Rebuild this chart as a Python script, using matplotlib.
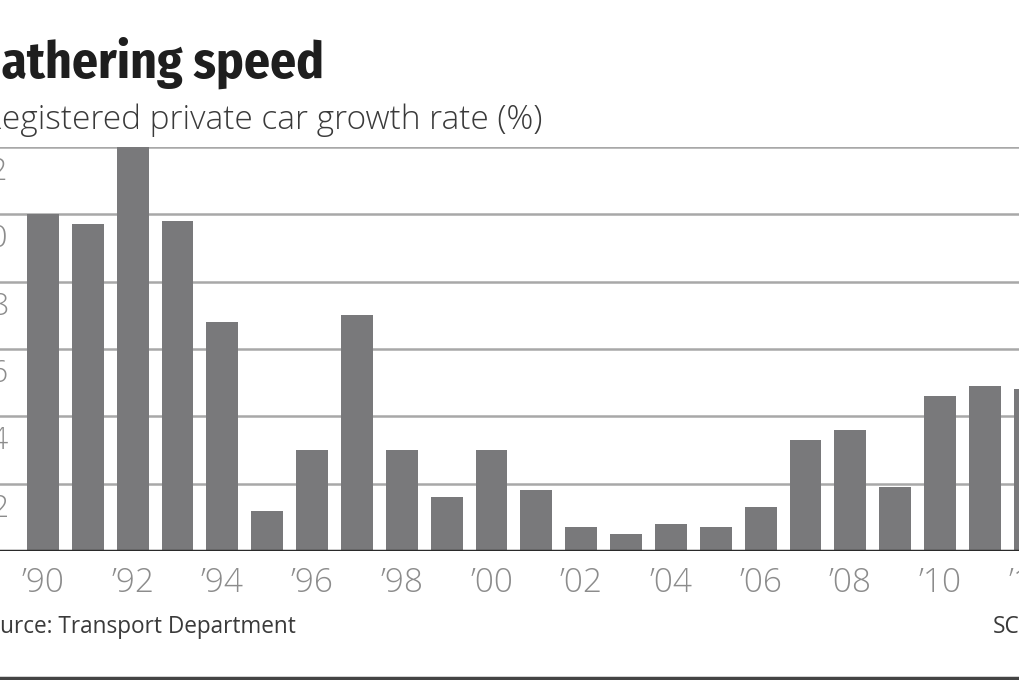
import matplotlib.pyplot as plt
from matplotlib.lines import Line2D

years = list(range(1990, 2013))
growth = [10.0, 9.7, 12.0, 9.8, 6.8, 1.2, 3.0, 7.0, 3.0, 1.6, 3.0, 1.8,
          0.7, 0.5, 0.8, 0.7, 1.3, 3.3, 3.6, 1.9, 4.6, 4.9, 4.8]
xtick_years = list(range(1990, 2013, 2))
xtick_labels = ["\u2019" + str(y)[2:] for y in xtick_years]
ytick_values = [2, 4, 6, 8, 10, 12]

W, H = 1020, 680
fig = plt.figure(figsize=(W / 100, H / 100), dpi=100)

# pixel helpers (top-left origin)
def fx(px):
    return px / W

def fy(py):
    return 1 - py / H

ax = fig.add_axes([0, fy(551), 1, fy(147) - fy(551)])
# '90 centre at 43 px, 44.85 px per year
step = 44.85
x_left = 1990 - 43 / step
ax.set_xlim(x_left, x_left + W / step)
ax.set_ylim(0, 12)

ax.bar(years, growth, width=0.71, color="#79797b", zorder=3)

for v in ytick_values:
    ax.axhline(v, color="#a8a8a8", lw=1.8, zorder=1)
ax.axhline(0, color="#2a2a2a", lw=2.5, zorder=4)

ax.set_xticks([])
ax.set_yticks([])
for s in ax.spines.values():
    s.set_visible(False)
ax.patch.set_visible(False)

label_font = ["Open Sans", "DejaVu Sans"]
cond_font = ["Fira Sans Condensed", "DejaVu Sans"]
for y, lab in zip(xtick_years, xtick_labels):
    ax.text(y, -0.45, lab, ha="center", va="top", fontsize=24,
            color="#8c8c8c", family=label_font, fontweight="light")

for v in ytick_values:
    fig.text(fx(8), fy(551 - v * (551 - 147) / 12 + 9), str(v), ha="right",
             va="top", fontsize=23, color="#8c8c8c", family=label_font,
             fontweight="light")

fig.text(fx(-29), fy(78), "Gathering speed", ha="left", va="baseline",
         fontsize=37, fontweight="bold", color="#1e1e1e", family=cond_font)
fig.text(fx(-18), fy(129), "Registered private car growth rate (%)",
         ha="left", va="baseline", fontsize=24, color="#3a3a3a",
         family=label_font, fontweight="light")
fig.text(fx(-26), fy(633), "Source: Transport Department", ha="left",
         va="baseline", fontsize=16.3, color="#3a3a3a", family=label_font)
fig.text(fx(993), fy(633), "SCMP", ha="left", va="baseline", fontsize=16.3,
         color="#3a3a3a", family=label_font)

fig.add_artist(Line2D([0, 1], [fy(678), fy(678)], color="#444444", lw=2.5,
                      transform=fig.transFigure))

fig.savefig("out.png", dpi=100)
